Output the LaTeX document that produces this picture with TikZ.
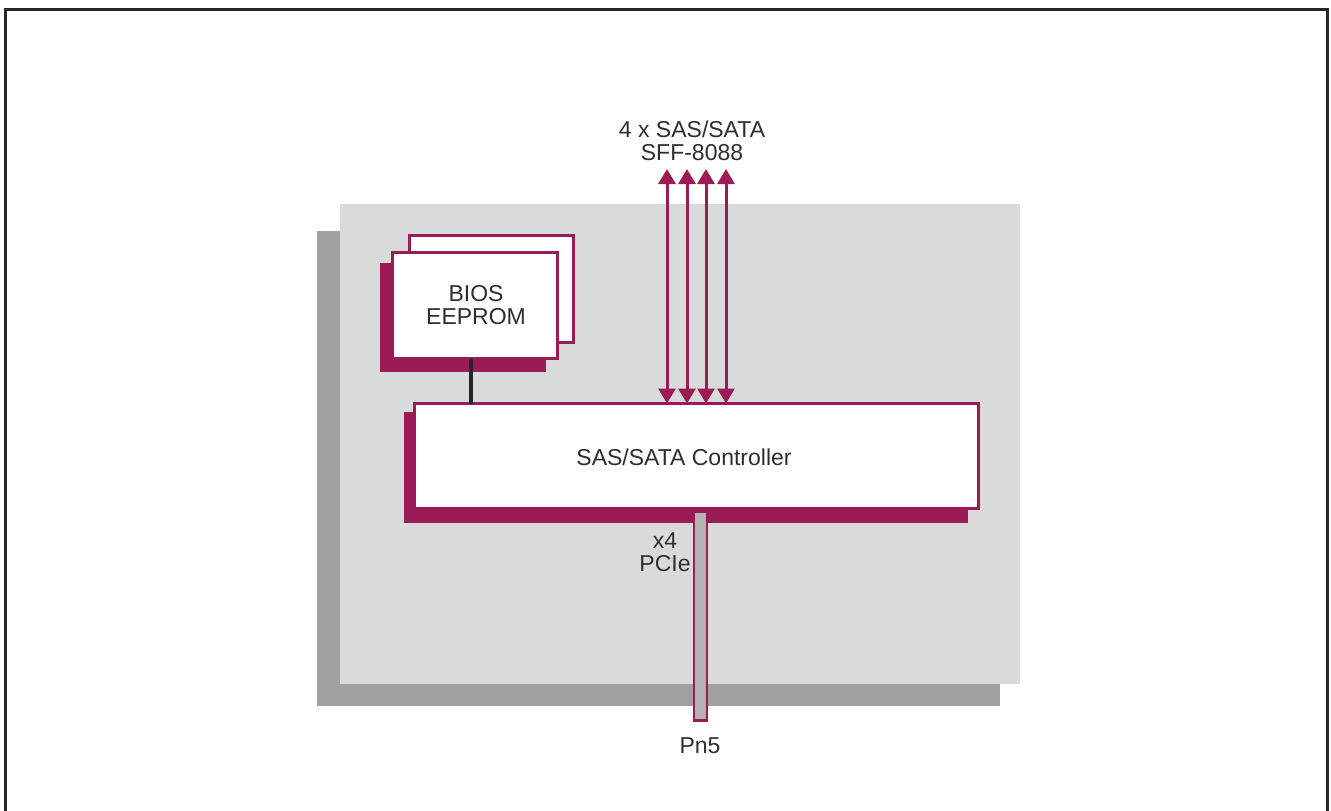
\documentclass[tikz,border=0pt]{standalone}
\usepackage{fontspec}
\setmainfont{Liberation Sans}
\usetikzlibrary{arrows.meta}
\definecolor{mag}{HTML}{9B1B57}
\definecolor{panelgrey}{HTML}{D9DADA}
\definecolor{shadowgrey}{HTML}{A0A0A0}
\definecolor{barfill}{HTML}{B3B3B3}
\definecolor{txt}{HTML}{2E2E2E}
\begin{document}
\begin{tikzpicture}[x=1pt,y=-1pt,
  every node/.style={font=\fontsize{23}{23}\selectfont, text=txt, inner sep=0pt, outer sep=0pt},
  chip/.style={draw=mag, fill=white, line width=3pt, rectangle},
  chipshadow/.style={fill=mag},
  biarrow/.style={draw=mag, line width=3pt, {Triangle[width=17pt,length=15pt]}-{Triangle[width=17pt,length=15pt]}},
  link/.style={draw=black!85, line width=3.5pt},
  busbar/.style={draw=mag, fill=barfill, line width=2.2pt, rectangle},
  lbl/.style={align=center}
]
\useasboundingbox (0,0) rectangle (1331,811);
% outer frame
\draw[line width=2.5pt, black!85] (5.5,830) -- (5.5,9.5) -- (1327.5,9.5) -- (1327.5,830);
% board panel with shadow
\fill[shadowgrey] (317,231) rectangle (1000,706);
\fill[panelgrey] (340,204) rectangle (1020,684);
% BIOS EEPROM (stacked)
\node[chip, minimum width=164pt, minimum height=107pt] (biosback) at (491.5,289) {};
\fill[chipshadow] (380,263) rectangle (546,372);
\node[chip, minimum width=165pt, minimum height=106pt] (biosfront) at (475,305.5) {};
\node[lbl] (biostext) at (476,305) {BIOS\\EEPROM};
% controller
\fill[chipshadow] (404,412) rectangle (968,523);
\node[busbar, minimum width=13pt, minimum height=209pt] (pcie) at (700.5,616) {};
\node[chip, minimum width=564pt, minimum height=105pt] (ctrl) at (696.5,456) {};
\node (ctrltext) at (684,457) {SAS/SATA Controller};
% BIOS link
\draw[link] ([xshift=-4pt]biosfront.south) -- ([xshift=-4pt]biosfront.south |- ctrl.north);
% SAS/SATA ports
\coordinate (p1) at (667,169);
\coordinate (p2) at (687,169);
\coordinate (p3) at (706,169);
\coordinate (p4) at (726,169);
\foreach \p in {p1,p2,p3,p4}
  \draw[biarrow] (\p) -- (\p |- ctrl.north);
\node[lbl] (sastext) at (692,141) {4 x SAS/SATA\\SFF-8088};
% PCIe labels
\node[lbl] (pcietext) at (665,552) {x4\\PCIe};
\node (pn5) at (700,746) {Pn5};
\end{tikzpicture}
\end{document}
